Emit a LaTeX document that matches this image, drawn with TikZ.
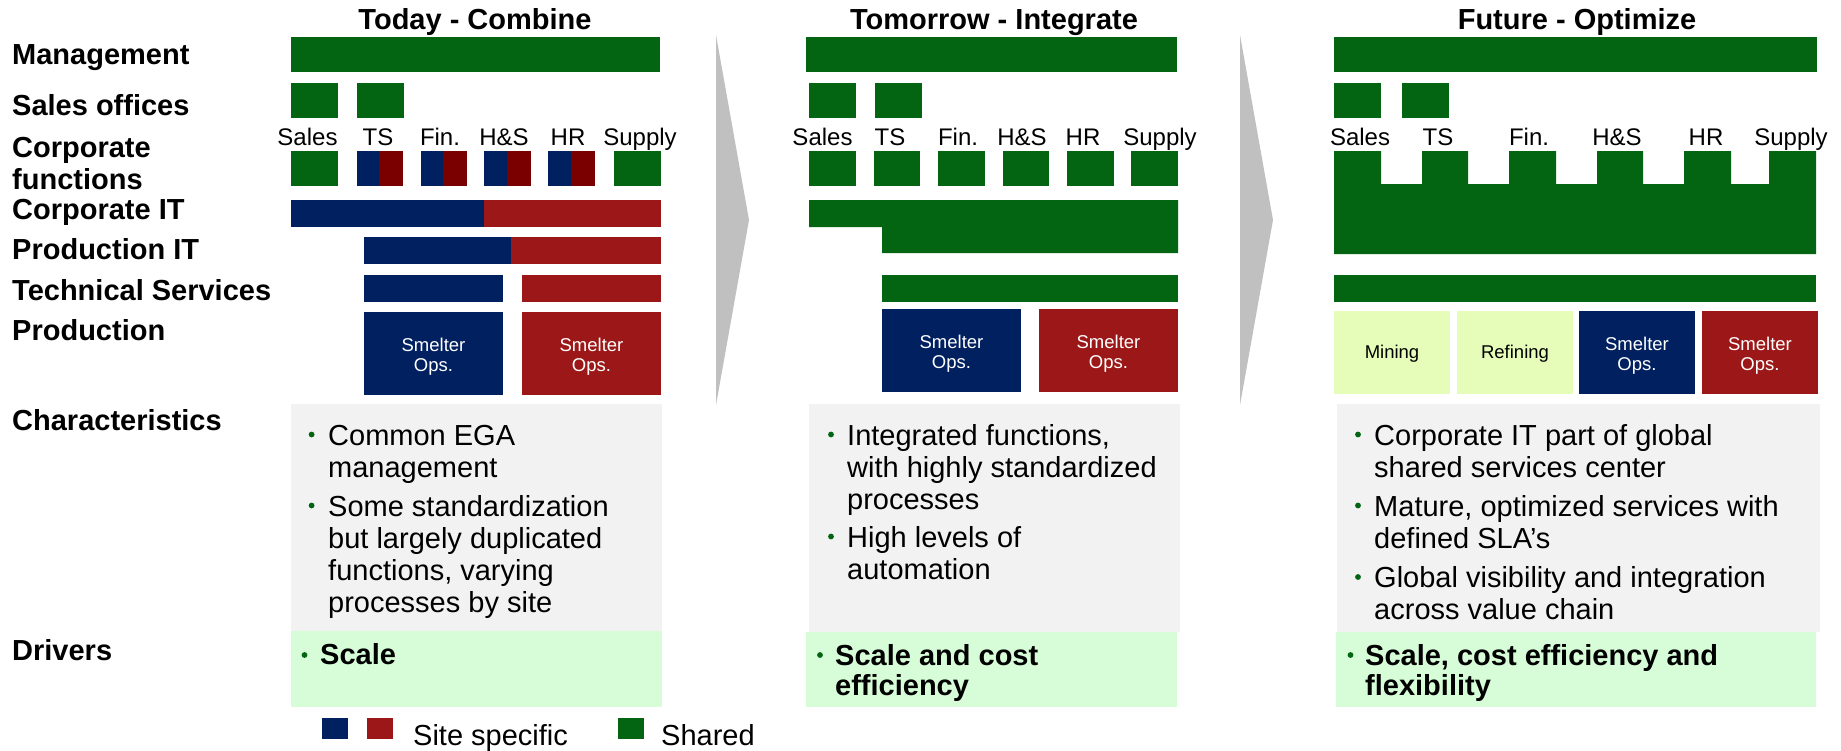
\documentclass[tikz,border=0pt]{standalone}
\usepackage{fontspec}
\setmainfont{Liberation Sans}
\usetikzlibrary{fit}
\definecolor{shgreen}{RGB}{3,100,18}
\definecolor{sitenavy}{RGB}{0,32,96}
\definecolor{sitered}{RGB}{156,24,24}
\definecolor{sitedark}{RGB}{122,0,0}
\definecolor{charbg}{RGB}{242,242,242}
\definecolor{drvbg}{RGB}{214,253,216}
\definecolor{chevgray}{RGB}{192,192,192}
\definecolor{minefill}{RGB}{230,252,185}
% block spanning (x1,y1)-(x2,y2)
\newcommand\bx[6]{\node[blk,fill=#2,fit={(#3,#4)(#5,#6)}] (#1) {};}
\begin{document}
\begin{tikzpicture}[x=1pt,y=-1pt,
  blk/.style={inner sep=0pt, outer sep=0pt, draw=none},
  intxt/.style={anchor=base, inner sep=0pt, align=center, font=\fontsize{18.5}{20}\selectfont},
  rowlbl/.style={anchor=base west, inner sep=0pt, align=left,
    font=\fontsize{29}{32}\selectfont\bfseries},
  ttl/.style={anchor=base, inner sep=0pt, font=\fontsize{29}{32}\selectfont\bfseries},
  fnlbl/.style={anchor=base, inner sep=0pt, font=\fontsize{24}{28}\selectfont},
  bul/.style={anchor=base west, inner sep=0pt, align=left,
    font=\fontsize{29}{32}\selectfont},
  drv/.style={anchor=base west, inner sep=0pt, align=left,
    font=\fontsize{29}{30.5}\selectfont\bfseries},
  leg/.style={anchor=base west, inner sep=0pt, font=\fontsize{29}{32}\selectfont},
  bdot/.style={fill=shgreen},
]
\useasboundingbox (0,0) rectangle (1841,750);

% transition chevrons
\fill[chevgray] (716,35) -- (749,220) -- (716,405) -- cycle;
\fill[chevgray] (1240,35) -- (1273,220) -- (1240,405) -- cycle;

% row labels (multi-line nodes sit on the baseline of their last line)
\node[rowlbl] (lmgmt) at (12,64) {Management};
\node[rowlbl] (lsales) at (12,115) {Sales offices};
\node[rowlbl] (lcorp) at (12,189) {Corporate\\functions};
\node[rowlbl] (lcit) at (12,219) {Corporate IT};
\node[rowlbl] (lpit) at (12,259) {Production IT};
\node[rowlbl] (ltech) at (12,300) {Technical Services};
\node[rowlbl] (lprod) at (12,340) {Production};
\node[rowlbl] (lchar) at (12,430) {Characteristics};
\node[rowlbl] (ldrv) at (12,660) {Drivers};

% ---------------- Today - Combine ----------------
\node[ttl] (t1) at (475,29) {Today - Combine};
\bx{a-mg}{shgreen}{291}{37}{660}{72}
\bx{a-so1}{shgreen}{291}{83}{338}{118}
\bx{a-so2}{shgreen}{357}{83}{404}{118}
\node[fnlbl] (a-l1) at (307.5,145) {Sales};
\node[fnlbl] (a-l2) at (378,145) {TS};
\node[fnlbl] (a-l3) at (440,145) {Fin.};
\node[fnlbl] (a-l4) at (504,145) {H\&S};
\node[fnlbl] (a-l5) at (568,145) {HR};
\node[fnlbl] (a-l6) at (640,145) {Supply};
\bx{a-f1}{shgreen}{291}{151}{338}{186}
\bx{a-f2b}{sitenavy}{357}{151}{379}{186}
\bx{a-f2r}{sitedark}{379}{151}{403}{186}
\bx{a-f3b}{sitenavy}{421}{151}{443}{186}
\bx{a-f3r}{sitedark}{443}{151}{467}{186}
\bx{a-f4b}{sitenavy}{484}{151}{507}{186}
\bx{a-f4r}{sitedark}{507}{151}{531}{186}
\bx{a-f5b}{sitenavy}{548}{151}{571}{186}
\bx{a-f5r}{sitedark}{571}{151}{595}{186}
\bx{a-f6}{shgreen}{614}{151}{661}{186}
\bx{a-citb}{sitenavy}{291}{200}{484}{227}
\bx{a-citr}{sitered}{484}{200}{661}{227}
\bx{a-pitb}{sitenavy}{364}{237}{511}{264}
\bx{a-pitr}{sitered}{511}{237}{661}{264}
\bx{a-tsb}{sitenavy}{364}{275}{503}{302}
\bx{a-tsr}{sitered}{522}{275}{661}{302}
\bx{a-pb}{sitenavy}{364}{312}{503}{395}
\bx{a-pr}{sitered}{522}{312}{661}{395}
\node[intxt,text=white] (a-pbt) at ([yshift=24pt]a-pb.south) {Smelter\\Ops.};
\node[intxt,text=white] (a-prt) at ([yshift=24pt]a-pr.south) {Smelter\\Ops.};
\bx{a-ch}{charbg}{291}{404}{662}{631}
\bx{a-dr}{drvbg}{291}{631}{662}{707}
\fill[bdot] (311.6,434.5) circle (2.9);
\node[bul] (a-b1) at (328,477) {Common EGA\\management};
\fill[bdot] (311.6,505.5) circle (2.9);
\node[bul] (a-b2) at (328,612) {Some standardization\\but largely duplicated\\functions, varying\\processes by site};
\fill[bdot] (304.5,655) circle (2.9);
\node[drv] (a-d1) at (320,664) {Scale};

% legend
\bx{k-b}{sitenavy}{322}{718}{348}{739}
\bx{k-r}{sitered}{367}{718}{393}{739}
\node[leg] (k-site) at (413,745) {Site specific};
\bx{k-g}{shgreen}{618}{718}{644}{739}
\node[leg] (k-shared) at (661,745) {Shared};

% ---------------- Tomorrow - Integrate ----------------
\node[ttl] (t2) at (994,29) {Tomorrow - Integrate};
\bx{b-mg}{shgreen}{806}{37}{1177}{72}
\bx{b-so1}{shgreen}{809}{83}{856}{118}
\bx{b-so2}{shgreen}{875}{83}{922}{118}
\node[fnlbl] (b-l1) at (822.5,145) {Sales};
\node[fnlbl] (b-l2) at (890,145) {TS};
\node[fnlbl] (b-l3) at (958,145) {Fin.};
\node[fnlbl] (b-l4) at (1022,145) {H\&S};
\node[fnlbl] (b-l5) at (1083,145) {HR};
\node[fnlbl] (b-l6) at (1160,145) {Supply};
\bx{b-f1}{shgreen}{809}{151}{856}{186}
\bx{b-f2}{shgreen}{874}{151}{920}{186}
\bx{b-f3}{shgreen}{938}{151}{985}{186}
\bx{b-f4}{shgreen}{1003}{151}{1049}{186}
\bx{b-f5}{shgreen}{1067}{151}{1114}{186}
\bx{b-f6}{shgreen}{1131}{151}{1178}{186}
% corporate and production IT merged into one block
\fill[shgreen] (809,200) -- (1178,200) -- (1178,253) -- (882,253) -- (882,227) -- (809,227) -- cycle;
\bx{b-ts}{shgreen}{882}{275}{1178}{302}
\bx{b-pb}{sitenavy}{882}{309}{1021}{392}
\bx{b-pr}{sitered}{1039}{309}{1178}{392}
\node[intxt,text=white] (b-pbt) at ([yshift=24pt]b-pb.south) {Smelter\\Ops.};
\node[intxt,text=white] (b-prt) at ([yshift=24pt]b-pr.south) {Smelter\\Ops.};
\bx{b-ch}{charbg}{809}{404}{1180}{632}
\bx{b-dr}{drvbg}{806}{632}{1177}{707}
\fill[bdot] (831,434.5) circle (2.9);
\node[bul] (b-b1) at (847,509) {Integrated functions,\\with highly standardized\\processes};
\fill[bdot] (831,536.5) circle (2.9);
\node[bul] (b-b2) at (847,579) {High levels of\\automation};
\fill[bdot] (820,655) circle (2.9);
\node[drv] (b-d1) at (835,695.5) {Scale and cost\\efficiency};

% ---------------- Future - Optimize ----------------
\node[ttl] (t3) at (1577,29) {Future - Optimize};
\bx{c-mg}{shgreen}{1334}{37}{1817}{72}
\bx{c-so1}{shgreen}{1334}{83}{1381}{118}
\bx{c-so2}{shgreen}{1402}{83}{1449}{118}
\node[fnlbl] (c-l1) at (1360,145) {Sales};
\node[fnlbl] (c-l2) at (1438,145) {TS};
\node[fnlbl] (c-l3) at (1529,145) {Fin.};
\node[fnlbl] (c-l4) at (1617,145) {H\&S};
\node[fnlbl] (c-l5) at (1706,145) {HR};
\node[fnlbl] (c-l6) at (1791,145) {Supply};
% functions and IT fused into one shared-services block
\fill[shgreen] (1334,151) -- (1381,151) -- (1381,184) -- (1422,184) -- (1422,151)
  -- (1468,151) -- (1468,184) -- (1509,184) -- (1509,151) -- (1556,151) -- (1556,184)
  -- (1597,184) -- (1597,151) -- (1643,151) -- (1643,184) -- (1684,184) -- (1684,151)
  -- (1731,151) -- (1731,184) -- (1769,184) -- (1769,151) -- (1816,151) -- (1816,254)
  -- (1334,254) -- cycle;
\bx{c-ts}{shgreen}{1334}{275}{1816}{302}
\bx{c-pm}{minefill}{1334}{311}{1450}{394}
\bx{c-pf}{minefill}{1457}{311}{1573}{394}
\bx{c-pb}{sitenavy}{1579}{311}{1695}{394}
\bx{c-pr}{sitered}{1702}{311}{1818}{394}
\node[intxt] (c-pmt) at ([yshift=35.5pt]c-pm.south) {Mining};
\node[intxt] (c-pft) at ([yshift=35.5pt]c-pf.south) {Refining};
\node[intxt,text=white] (c-pbt) at ([yshift=24pt]c-pb.south) {Smelter\\Ops.};
\node[intxt,text=white] (c-prt) at ([yshift=24pt]c-pr.south) {Smelter\\Ops.};
\bx{c-ch}{charbg}{1337}{404}{1820}{632}
\bx{c-dr}{drvbg}{1336}{632}{1816}{707}
\fill[bdot] (1358,434.5) circle (2.9);
\node[bul] (c-b1) at (1374,477) {Corporate IT part of global\\shared services center};
\fill[bdot] (1358,505.5) circle (2.9);
\node[bul] (c-b2) at (1374,548) {Mature, optimized services with\\defined SLA’s};
\fill[bdot] (1358,577) circle (2.9);
\node[bul] (c-b3) at (1374,619.5) {Global visibility and integration\\across value chain};
\fill[bdot] (1350.5,655) circle (2.9);
\node[drv] (c-d1) at (1365,695.5) {Scale, cost efficiency and\\flexibility};
\end{tikzpicture}
\end{document}
